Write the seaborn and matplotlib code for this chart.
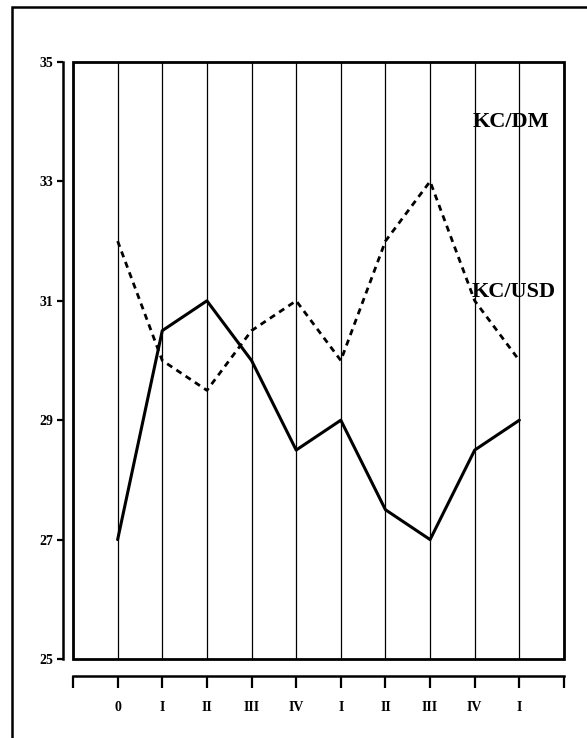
import pandas as pd
import matplotlib.pyplot as plt
import seaborn as sns
from matplotlib.patches import Rectangle

# quarters
quarters = ["0", "I", "II", "III", "IV", "I", "II", "III", "IV", "I"]
# KC/USD (solid) and KC/DM (dashed)
kc_solid = [27, 30.5, 31, 30, 28.5, 29, 27.5, 27, 28.5, 29]
kc_dashed = [32, 30, 29.5, 30.5, 31, 30, 32, 33, 31, 30]
yticks = [25, 27, 29, 31, 33, 35]

df = pd.DataFrame({"pos": range(len(quarters)), "solid": kc_solid, "dashed": kc_dashed})

sns.set_style("white")
plt.rcParams['font.family'] = ['Liberation Serif', 'DejaVu Serif']
plt.rcParams['font.weight'] = 'bold'
plt.rcParams['text.color'] = 'black'
plt.rcParams['xtick.color'] = 'black'
plt.rcParams['ytick.color'] = 'black'

fig = plt.figure(figsize=(5.87, 7.38), dpi=100)
ax = fig.add_axes([73/587, 1-659/738, 491/587, 597/738])

sns.lineplot(data=df, x="pos", y="solid", ax=ax, color="black", lw=2.2)
sns.lineplot(data=df, x="pos", y="dashed", ax=ax, color="black", lw=2.0,
             linestyle=(0, (2.2, 1.8)))

ax.set_xlim(-1, len(quarters))
ax.set_ylim(25, 35)
ax.set_xlabel("")
ax.set_ylabel("")

# x axis with blank end ticks
ax.set_xticks(range(-1, len(quarters) + 1))
ax.set_xticklabels([""] + quarters + [""], fontsize=13.5, fontweight="bold")
ax.set_yticks(yticks)
ax.set_yticklabels([str(v) for v in yticks], fontsize=13.5, fontweight="bold")

ax.xaxis.grid(True, color="black", lw=0.9)
ax.yaxis.grid(False)

for s in ["top", "right"]:
    ax.spines[s].set_visible(False)
ax.spines["left"].set_position(("outward", 7.5))
ax.spines["bottom"].set_position(("outward", 12))
ax.spines["left"].set_linewidth(1.8)
ax.spines["bottom"].set_linewidth(1.8)
ax.spines["left"].set_color("black")
ax.spines["bottom"].set_color("black")
ax.tick_params(axis="y", left=True, direction="out", length=4.5, width=1.6, pad=2)
ax.tick_params(axis="x", bottom=True, direction="out", length=8.5, width=1.6, pad=10)

# plot box
ax.add_patch(Rectangle((0, 0), 1, 1, transform=ax.transAxes, fill=False,
                       lw=2.0, edgecolor="black", clip_on=False, zorder=5))

ax.text(7.95, 34.0, "KC/DM", fontsize=16, fontweight="bold", va="center", ha="left")
ax.text(7.92, 31.15, "KC/USD", fontsize=16, fontweight="bold", va="center", ha="left")

# outer frame
fig.patches.append(Rectangle((12/587, -0.05), 1.0, 1 - 7/738 + 0.05,
                             transform=fig.transFigure, fill=False, lw=1.8,
                             edgecolor="black"))

plt.savefig("out.png", dpi=100)
